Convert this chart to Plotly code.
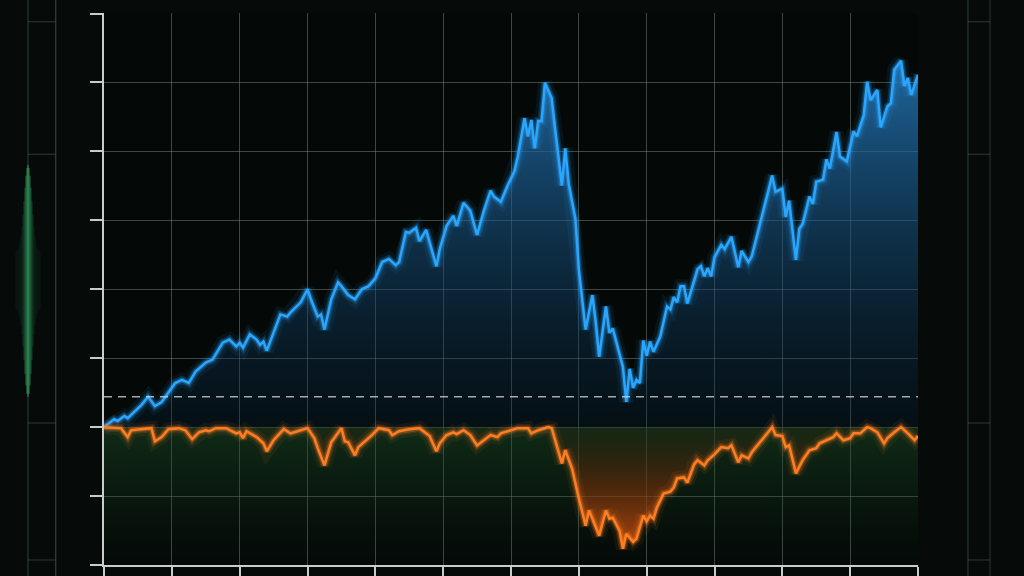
import math
import plotly.graph_objects as go

# ---- data (trading day index, cumulative return %, drawdown %) ----
ret_days = [0,3,4,6,7,9,11,13,15,17,19,21,23,25,27,30,32,35,37,39,40,41,43,45,46,47,48,50,52,54,
            55,58,60,61,63,64,65,67,69,70,72,74,76,78,80,82,84,86,87,89,90,92,93,95,98,99,101,103,104,106,
            108,110,112,114,115,117,119,121,122,124,125,126,127,128,129,130,132,133,135,136,
            137,139,140,142,144,145,146,148,149,150,152,153,154,155,156,157,158,159,160,161,
            162,164,166,167,168,169,170,171,172,174,175,176,177,178,179,180,182,183,185,186,
            187,188,190,191,193,195,197,198,200,201,202,204,205,206,208,209,210,212,213,214,
            216,217,219,221,222,224,225,226,228,229,231,232,233,235,236,237,238,240]
cum_return = [0.0,2.3,1.8,3.2,2.6,4.4,6.4,8.8,6.1,7.3,10.2,12.8,13.7,12.8,16.1,18.7,19.6,24.5,25.4,23.4,
              24.5,23.1,26.9,25.4,23.9,24.8,22.2,27.4,32.7,32.1,33.3,36.2,40.0,37.1,32.1,32.7,28.3,37.1,42.0,40.9,
              38.3,37.1,40.0,40.9,43.2,47.9,48.8,47.0,47.9,56.6,56.4,57.8,54.0,57.2,46.7,51.7,58.4,61.3,58.4,65.1,
              62.8,55.8,62.8,68.6,66.9,65.4,70.1,74.2,78.5,89.6,84.4,89.1,80.9,88.8,88.8,99.9,95.5,86.7,70.1,80.9,
              70.7,60.4,45.8,28.3,38.3,30.4,20.4,35.0,27.4,28.6,21.6,17.5,7.3,16.9,11.4,13.7,12.8,25.1,20.7,24.8,
              21.9,26.3,35.0,34.2,37.7,36.2,40.9,40.9,35.9,42.3,45.8,46.7,43.8,46.1,43.8,49.3,52.9,51.7,55.2,50.8,
              46.4,51.1,47.9,49.6,57.5,65.4,73.0,68.3,69.2,61.0,65.7,48.5,57.5,59.0,66.9,64.8,71.2,71.8,77.7,75.0,
              85.6,78.5,77.1,85.8,84.4,90.5,100.2,94.9,97.8,87.0,93.1,94.0,103.7,106.3,99.0,101.3,96.4,102.2]

dd_days = [0,3,5,7,8,14,15,17,19,22,24,26,28,30,31,33,36,39,40,41,
           42,45,47,48,50,53,55,58,60,62,63,65,67,70,71,72,74,75,78,79,
           81,84,85,87,90,93,96,98,99,101,103,104,106,108,110,112,114,116,117,119,
           122,125,126,128,131,132,133,135,136,138,140,142,143,146,148,149,150,152,153,154,
           156,157,159,160,161,162,163,165,167,168,169,171,172,174,175,177,178,180,182,184,
           185,187,188,190,191,194,197,198,200,201,202,204,206,208,210,211,213,215,216,218,
           220,221,223,225,226,228,230,231,233,235,237,239,240]
drawdown = [0.0,-0.3,-0.3,-2.9,-0.9,-0.3,-4.1,-2.9,-0.6,-0.3,-0.9,-3.5,-1.5,-0.9,-1.2,-0.3,-0.3,-1.8,-1.5,-3.2,
            -1.2,-2.9,-4.7,-7.0,-3.8,-0.6,-1.8,-0.9,-0.3,-3.2,-6.1,-11.1,-4.4,-0.3,-4.1,-4.4,-8.2,-5.8,-3.2,-2.3,
            -0.3,-0.9,-2.3,-1.2,-0.6,-0.3,-2.6,-7.0,-4.7,-2.3,-1.5,-2.0,-0.9,-2.3,-5.3,-3.8,-2.3,-2.9,-1.8,-1.2,
            -0.3,-0.3,-1.8,-0.9,0.0,-0.3,-3.8,-10.5,-6.7,-12.0,-20.7,-28.6,-24.2,-31.5,-24.2,-26.6,-26.3,-30.1,-35.3,-31.0,
            -33.3,-32.4,-25.7,-27.4,-25.7,-26.6,-23.4,-19.3,-18.7,-17.5,-14.9,-14.6,-16.1,-10.8,-9.6,-11.1,-9.6,-7.9,-5.8,-6.1,
            -5.3,-10.2,-8.2,-9.1,-7.3,-3.8,0.0,-2.3,-2.6,-5.8,-5.3,-13.4,-9.6,-6.7,-6.1,-4.7,-3.8,-2.9,-1.8,-3.8,
            -3.2,-1.8,-1.8,0.0,-0.3,-1.5,-4.7,-3.2,-1.5,0.0,-1.8,-3.8,-2.6]

threshold = 8.8
x_range = [0, 240]
y_range = [-40, 120.15]

BLUE = "#2aa6ff"
ORANGE = "#ff7d22"

fig = go.Figure()

# green band below zero
fig.add_trace(go.Scatter(x=x_range, y=[-40, -40], mode="lines", line=dict(width=0),
                         hoverinfo="skip", showlegend=False))
fig.add_trace(go.Scatter(x=x_range, y=[0, 0], mode="lines", line=dict(width=0),
                         fill="tonexty",
                         fillgradient=dict(type="vertical", start=-40, stop=0,
                                           colorscale=[[0, "rgba(20,60,30,0.0)"],
                                                       [0.45, "rgba(25,70,35,0.22)"],
                                                       [1, "rgba(30,85,42,0.45)"]]),
                         hoverinfo="skip", showlegend=False))

# blue area
fig.add_trace(go.Scatter(x=ret_days, y=cum_return, mode="lines", line=dict(width=0),
                         fill="tozeroy",
                         fillgradient=dict(type="vertical", start=0, stop=106,
                                           colorscale=[[0, "rgba(8,35,60,0.25)"],
                                                       [1, "rgba(38,125,195,0.8)"]]),
                         hoverinfo="skip", showlegend=False))
# orange area
fig.add_trace(go.Scatter(x=dd_days, y=drawdown, mode="lines", line=dict(width=0),
                         fill="tozeroy",
                         fillgradient=dict(type="vertical", start=-36, stop=0,
                                           colorscale=[[0, "rgba(225,90,15,0.8)"],
                                                       [0.55, "rgba(130,50,10,0.5)"],
                                                       [1, "rgba(45,30,10,0.2)"]]),
                         hoverinfo="skip", showlegend=False))

# glows + lines
for xs, ys, col in [(ret_days, cum_return, BLUE), (dd_days, drawdown, ORANGE)]:
    for w, op in [(14, 0.07), (8, 0.16), (5, 0.3)]:
        fig.add_trace(go.Scatter(x=xs, y=ys, mode="lines", line=dict(color=col, width=w),
                                 opacity=op, hoverinfo="skip", showlegend=False))
    fig.add_trace(go.Scatter(x=xs, y=ys, mode="lines", line=dict(color=col, width=2.5),
                             showlegend=False))

# dashed threshold line
fig.add_shape(type="line", xref="x", yref="y", x0=x_range[0], x1=x_range[1],
              y0=threshold, y1=threshold,
              line=dict(color="rgba(205,210,208,0.8)", width=1.6, dash="8px,6px"))

# decorative frame lines outside the plot (paper coordinates)
PX = 1.0 / 814.0
deco = []
for xp, col in [(-0.0934, "rgba(110,140,125,0.35)"), (-0.0593, "rgba(150,160,155,0.35)"),
                (1.0614, "rgba(110,140,125,0.35)"), (1.0885, "rgba(110,140,125,0.3)")]:
    deco.append(dict(type="line", xref="paper", yref="paper", x0=xp, x1=xp, y0=-0.03, y1=1.03,
                     line=dict(color=col, width=1.2), layer="below"))
for yp in [0.9842, 0.744, 0.2572, 0.0091]:
    deco.append(dict(type="line", xref="paper", yref="paper", x0=-0.0934, x1=-0.0593, y0=yp, y1=yp,
                     line=dict(color="rgba(120,140,130,0.3)", width=1.2), layer="below"))
    deco.append(dict(type="line", xref="paper", yref="paper", x0=1.0614, x1=1.0885, y0=yp, y1=yp,
                     line=dict(color="rgba(120,140,130,0.3)", width=1.2), layer="below"))
# soft green glow on left rail: thin lines, fading with distance from the rail
for dx in range(-12, 13):
    k = math.exp(-(dx * dx) / 30.0)
    half = 0.05 + 0.16 * k
    deco.append(dict(type="line", xref="paper", yref="paper",
                     x0=-0.0934 + dx * PX, x1=-0.0934 + dx * PX,
                     y0=0.515 - half, y1=0.515 + half,
                     line=dict(color="rgb(60,200,120)", width=1.2),
                     opacity=0.05 + 0.5 * k ** 2, layer="below"))
for s in deco:
    fig.add_shape(**s)

axis_common = dict(showgrid=True, gridcolor="rgba(140,155,150,0.42)", gridwidth=1,
                   showline=True, linecolor="#c8cccb", linewidth=2,
                   ticks="outside", ticklen=12, tickwidth=2, tickcolor="#c8cccb",
                   showticklabels=False, zeroline=False, mirror=False, automargin=False)

fig.update_layout(
    width=1024, height=576,
    margin=dict(l=104, r=106, t=13, b=11, autoexpand=False),
    paper_bgcolor="#060b09",
    plot_bgcolor="#040907",
    showlegend=False,
    xaxis=dict(range=x_range, tick0=0, dtick=20, **axis_common),
    yaxis=dict(range=y_range, tick0=0, dtick=20, **axis_common),
)

fig.write_html("out.html", config={"displayModeBar": False},
               post_script="document.body.style.margin='0';document.body.style.padding='0';"
                           "document.body.style.background='#060b09';document.body.style.overflow='hidden';")
